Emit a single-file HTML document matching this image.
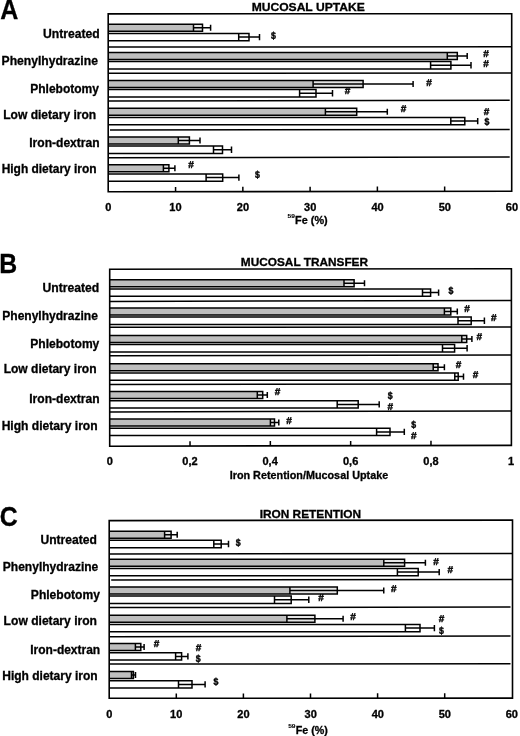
<!DOCTYPE html>
<html><head><meta charset="utf-8"><style>
html,body{margin:0;padding:0;background:#fff;}
svg{display:block;}
text{font-family:"Liberation Sans",Arial,sans-serif;font-weight:bold;fill:#000;stroke:#000;stroke-width:0.3px;}
.mk{stroke-width:0.4px;text-rendering:geometricPrecision;}
.sup{stroke-width:0.1px;}
</style></head><body>
<svg width="520" height="736" viewBox="0 0 520 736">
<rect width="520" height="736" fill="#fff"/>
<g id="pA"><rect x="108.2" y="24.3" width="94.3" height="7" fill="#bebebe"/>
<rect x="193.5" y="24.3" width="9" height="7" fill="#e4e4e4"/>
<path d="M108.2 24.3H202.5V31.3H108.2M193.5 24.3V31.3M193.5 27.8H210.6M210.6 24.8V30.8" fill="none" stroke="#000" stroke-width="1.5"/>
<rect x="108.2" y="33.4" width="140.8" height="7.4" fill="#fff"/>
<rect x="238.7" y="33.4" width="10.3" height="7.4" fill="#fff"/>
<path d="M108.2 33.4H249V40.8H108.2M238.7 33.4V40.8M238.7 37.1H259.5M259.5 33.9V40.3" fill="none" stroke="#000" stroke-width="1.5"/>
<rect x="108.2" y="52.4" width="349.1" height="7" fill="#bebebe"/>
<rect x="447.3" y="52.4" width="10" height="7" fill="#e4e4e4"/>
<path d="M108.2 52.4H457.3V59.4H108.2M447.3 52.4V59.4M447.3 55.9H467.2M467.2 52.9V58.9" fill="none" stroke="#000" stroke-width="1.5"/>
<rect x="108.2" y="61.5" width="342.7" height="7.4" fill="#fff"/>
<rect x="430.6" y="61.5" width="20.3" height="7.4" fill="#fff"/>
<path d="M108.2 61.5H450.9V68.9H108.2M430.6 61.5V68.9M430.6 65.2H471M471 62V68.4" fill="none" stroke="#000" stroke-width="1.5"/>
<rect x="108.2" y="80.4" width="254.9" height="7" fill="#bebebe"/>
<rect x="313.1" y="80.4" width="50" height="7" fill="#e4e4e4"/>
<path d="M108.2 80.4H363.1V87.4H108.2M313.1 80.4V87.4M313.1 83.9H413.1M413.1 80.9V86.9" fill="none" stroke="#000" stroke-width="1.5"/>
<rect x="108.2" y="89.5" width="207.8" height="7.4" fill="#fff"/>
<rect x="299.6" y="89.5" width="16.4" height="7.4" fill="#fff"/>
<path d="M108.2 89.5H316V96.9H108.2M299.6 89.5V96.9M299.6 93.2H332.5M332.5 90V96.4" fill="none" stroke="#000" stroke-width="1.5"/>
<rect x="108.2" y="108.3" width="248.5" height="7" fill="#bebebe"/>
<rect x="325.4" y="108.3" width="31.3" height="7" fill="#e4e4e4"/>
<path d="M108.2 108.3H356.7V115.3H108.2M325.4 108.3V115.3M325.4 111.8H387.3M387.3 108.8V114.8" fill="none" stroke="#000" stroke-width="1.5"/>
<rect x="108.2" y="117.4" width="356.6" height="7.4" fill="#fff"/>
<rect x="450.8" y="117.4" width="14" height="7.4" fill="#fff"/>
<path d="M108.2 117.4H464.8V124.8H108.2M450.8 117.4V124.8M450.8 121.1H477.7M477.7 117.9V124.3" fill="none" stroke="#000" stroke-width="1.5"/>
<rect x="108.2" y="137" width="81.2" height="7" fill="#bebebe"/>
<rect x="178.3" y="137" width="11.1" height="7" fill="#e4e4e4"/>
<path d="M108.2 137H189.4V144H108.2M178.3 137V144M178.3 140.5H200M200 137.5V143.5" fill="none" stroke="#000" stroke-width="1.5"/>
<rect x="108.2" y="146.1" width="114.3" height="7.4" fill="#fff"/>
<rect x="213.5" y="146.1" width="9" height="7.4" fill="#fff"/>
<path d="M108.2 146.1H222.5V153.5H108.2M213.5 146.1V153.5M213.5 149.8H231.5M231.5 146.6V153" fill="none" stroke="#000" stroke-width="1.5"/>
<rect x="108.2" y="164.8" width="60.7" height="7" fill="#bebebe"/>
<rect x="163.4" y="164.8" width="5.5" height="7" fill="#e4e4e4"/>
<path d="M108.2 164.8H168.9V171.8H108.2M163.4 164.8V171.8M163.4 168.3H174.9M174.9 165.3V171.3" fill="none" stroke="#000" stroke-width="1.5"/>
<rect x="108.2" y="173.9" width="114.5" height="7.4" fill="#fff"/>
<rect x="206.1" y="173.9" width="16.6" height="7.4" fill="#fff"/>
<path d="M108.2 173.9H222.7V181.3H108.2M206.1 173.9V181.3M206.1 177.6H238.9M238.9 174.4V180.8" fill="none" stroke="#000" stroke-width="1.5"/>
<path d="M108.2 47.1L511.7 46.7" stroke="#000" stroke-width="1.5"/>
<path d="M108.2 73.3L511.7 72.9" stroke="#000" stroke-width="1.5"/>
<path d="M108.2 101L509.7 100.3" stroke="#000" stroke-width="1.5"/>
<path d="M110 130L509.7 129.6" stroke="#000" stroke-width="1.5"/>
<path d="M108.2 157.7L509.7 157.1" stroke="#000" stroke-width="1.5"/>
<path d="M108.2 13.85L511.7 13.7L511.7 191.2L108.2 191.8Z" fill="none" stroke="#000" stroke-width="1.6"/>
<path d="M175.57 191.7V186.9M242.84 191.6V186.8M310.11 191.5V186.7M377.38 191.4V186.6M444.65 191.3V186.5" stroke="#000" stroke-width="1.5"/>
<text x="105.29" y="210.8" font-size="10.4" textLength="6.13" lengthAdjust="spacingAndGlyphs">0</text>
<text x="169.32" y="210.8" font-size="10.4" textLength="12.26" lengthAdjust="spacingAndGlyphs">10</text>
<text x="236.76" y="210.8" font-size="10.4" textLength="12.26" lengthAdjust="spacingAndGlyphs">20</text>
<text x="304.12" y="210.8" font-size="10.4" textLength="12.26" lengthAdjust="spacingAndGlyphs">30</text>
<text x="371.47" y="210.8" font-size="10.4" textLength="12.26" lengthAdjust="spacingAndGlyphs">40</text>
<text x="438.66" y="210.8" font-size="10.4" textLength="12.26" lengthAdjust="spacingAndGlyphs">50</text>
<text x="505.84" y="210.8" font-size="10.4" textLength="12.26" lengthAdjust="spacingAndGlyphs">60</text>
<text x="43.03" y="37.85" font-size="12" textLength="56.75" lengthAdjust="spacingAndGlyphs">Untreated</text>
<text x="1.64" y="64.85" font-size="12" textLength="96.26" lengthAdjust="spacingAndGlyphs">Phenylhydrazine</text>
<text x="30.25" y="93.05" font-size="12" textLength="68.67" lengthAdjust="spacingAndGlyphs">Phlebotomy</text>
<text x="3.25" y="118.85" font-size="12" textLength="92.93" lengthAdjust="spacingAndGlyphs">Low dietary iron</text>
<text x="29.25" y="146.85" font-size="12" textLength="70.34" lengthAdjust="spacingAndGlyphs">Iron-dextran</text>
<text x="1.65" y="173.45" font-size="12" textLength="94.92" lengthAdjust="spacingAndGlyphs">High dietary iron</text>
<text x="251.65" y="11" font-size="11.3" textLength="113.07" lengthAdjust="spacingAndGlyphs">MUCOSAL UPTAKE</text>
<text x="0.31" y="19" font-size="27" textLength="18.07" lengthAdjust="spacingAndGlyphs">A</text>
<text x="295.12" y="223.7" font-size="11" textLength="32.57" lengthAdjust="spacingAndGlyphs">Fe (%)</text>
<text x="287.6" y="217.6" font-size="6.0" textLength="7.37" lengthAdjust="spacingAndGlyphs" class="sup">59</text>
<text x="271" y="38.62" font-size="10" textLength="4.88" lengthAdjust="spacingAndGlyphs" class="mk">$</text>
<text x="483.14" y="57" font-size="10" class="mk">#</text>
<text x="483.14" y="66.6" font-size="10" class="mk">#</text>
<text x="426.34" y="86" font-size="10" class="mk">#</text>
<text x="344.84" y="94.2" font-size="10" class="mk">#</text>
<text x="400.64" y="111.6" font-size="10" class="mk">#</text>
<text x="483.84" y="115" font-size="10" class="mk">#</text>
<text x="484.4" y="124.62" font-size="10" textLength="4.88" lengthAdjust="spacingAndGlyphs" class="mk">$</text>
<text x="188.34" y="168.4" font-size="10" class="mk">#</text>
<text x="255" y="178.42" font-size="10" textLength="4.88" lengthAdjust="spacingAndGlyphs" class="mk">$</text></g>
<g id="pB"><rect x="109.7" y="279.8" width="244.4" height="7" fill="#bebebe"/>
<rect x="344" y="279.8" width="10.1" height="7" fill="#e4e4e4"/>
<path d="M109.7 279.8H354.1V286.8H109.7M344 279.8V286.8M344 283.3H364.5M364.5 280.3V286.3" fill="none" stroke="#000" stroke-width="1.5"/>
<rect x="109.7" y="288.9" width="320.9" height="7.4" fill="#fff"/>
<rect x="422.5" y="288.9" width="8.1" height="7.4" fill="#fff"/>
<path d="M109.7 288.9H430.6V296.3H109.7M422.5 288.9V296.3M422.5 292.6H438.6M438.6 289.4V295.8" fill="none" stroke="#000" stroke-width="1.5"/>
<rect x="109.7" y="308" width="341.1" height="7" fill="#bebebe"/>
<rect x="444.4" y="308" width="6.4" height="7" fill="#e4e4e4"/>
<path d="M109.7 308H450.8V315H109.7M444.4 308V315M444.4 311.5H457.3M457.3 308.5V314.5" fill="none" stroke="#000" stroke-width="1.5"/>
<rect x="109.7" y="317.1" width="361.5" height="7.4" fill="#fff"/>
<rect x="458" y="317.1" width="13.2" height="7.4" fill="#fff"/>
<path d="M109.7 317.1H471.2V324.5H109.7M458 317.1V324.5M458 320.8H484.4M484.4 317.6V324" fill="none" stroke="#000" stroke-width="1.5"/>
<rect x="109.7" y="335.5" width="357" height="7" fill="#bebebe"/>
<rect x="461.8" y="335.5" width="4.9" height="7" fill="#e4e4e4"/>
<path d="M109.7 335.5H466.7V342.5H109.7M461.8 335.5V342.5M461.8 339H471.9M471.9 336V342" fill="none" stroke="#000" stroke-width="1.5"/>
<rect x="109.7" y="344.6" width="344.9" height="7.4" fill="#fff"/>
<rect x="442.5" y="344.6" width="12.1" height="7.4" fill="#fff"/>
<path d="M109.7 344.6H454.6V352H109.7M442.5 344.6V352M442.5 348.3H467.1M467.1 345.1V351.5" fill="none" stroke="#000" stroke-width="1.5"/>
<rect x="109.7" y="363.8" width="328.3" height="7" fill="#bebebe"/>
<rect x="433.2" y="363.8" width="4.8" height="7" fill="#e4e4e4"/>
<path d="M109.7 363.8H438V370.8H109.7M433.2 363.8V370.8M433.2 367.3H444.4M444.4 364.3V370.3" fill="none" stroke="#000" stroke-width="1.5"/>
<rect x="109.7" y="372.9" width="348.5" height="7.4" fill="#fff"/>
<rect x="454.8" y="372.9" width="3.4" height="7.4" fill="#fff"/>
<path d="M109.7 372.9H458.2V380.3H109.7M454.8 372.9V380.3M454.8 376.6H463.5M463.5 373.4V379.8" fill="none" stroke="#000" stroke-width="1.5"/>
<rect x="109.7" y="391.6" width="153" height="7" fill="#bebebe"/>
<rect x="257.3" y="391.6" width="5.4" height="7" fill="#e4e4e4"/>
<path d="M109.7 391.6H262.7V398.6H109.7M257.3 391.6V398.6M257.3 395.1H267.3M267.3 392.1V398.1" fill="none" stroke="#000" stroke-width="1.5"/>
<rect x="109.7" y="400.7" width="248.5" height="7.4" fill="#fff"/>
<rect x="337.2" y="400.7" width="21" height="7.4" fill="#fff"/>
<path d="M109.7 400.7H358.2V408.1H109.7M337.2 400.7V408.1M337.2 404.4H379.2M379.2 401.2V407.6" fill="none" stroke="#000" stroke-width="1.5"/>
<rect x="109.7" y="419.1" width="164.8" height="7" fill="#bebebe"/>
<rect x="270.4" y="419.1" width="4.1" height="7" fill="#e4e4e4"/>
<path d="M109.7 419.1H274.5V426.1H109.7M270.4 419.1V426.1M270.4 422.6H278.8M278.8 419.6V425.6" fill="none" stroke="#000" stroke-width="1.5"/>
<rect x="109.7" y="428.2" width="280.3" height="7.4" fill="#fff"/>
<rect x="376.6" y="428.2" width="13.4" height="7.4" fill="#fff"/>
<path d="M109.7 428.2H390V435.6H109.7M376.6 428.2V435.6M376.6 431.9H404.3M404.3 428.7V435.1" fill="none" stroke="#000" stroke-width="1.5"/>
<path d="M109.7 301.4L511.4 300.5" stroke="#000" stroke-width="1.5"/>
<path d="M109.7 327.3L511.4 326.9" stroke="#000" stroke-width="1.5"/>
<path d="M109.7 355.8L511.4 354.9" stroke="#000" stroke-width="1.5"/>
<path d="M109.7 384.6L511.4 383.9" stroke="#000" stroke-width="1.5"/>
<path d="M109.7 411.9L511.4 411.1" stroke="#000" stroke-width="1.5"/>
<path d="M109.7 269.2L511.4 268.7L511.4 445.4L109.7 446.2Z" fill="none" stroke="#000" stroke-width="1.6"/>
<path d="M190.02 446.04V441.24M270.34 445.88V441.08M350.66 445.72V440.92M430.98 445.56V440.76" stroke="#000" stroke-width="1.5"/>
<text x="106.69" y="464.8" font-size="10.4" textLength="6.13" lengthAdjust="spacingAndGlyphs">0</text>
<text x="182.32" y="464.8" font-size="10.4" textLength="15.32" lengthAdjust="spacingAndGlyphs">0,2</text>
<text x="262.47" y="464.8" font-size="10.4" textLength="15.32" lengthAdjust="spacingAndGlyphs">0,4</text>
<text x="342.96" y="464.8" font-size="10.4" textLength="15.32" lengthAdjust="spacingAndGlyphs">0,6</text>
<text x="423.28" y="464.8" font-size="10.4" textLength="15.32" lengthAdjust="spacingAndGlyphs">0,8</text>
<text x="508.03" y="464.8" font-size="10.4" textLength="6.13" lengthAdjust="spacingAndGlyphs">1</text>
<text x="42.43" y="292.05" font-size="12" textLength="56.75" lengthAdjust="spacingAndGlyphs">Untreated</text>
<text x="2.25" y="320.45" font-size="12" textLength="95.65" lengthAdjust="spacingAndGlyphs">Phenylhydrazine</text>
<text x="30.25" y="348.45" font-size="12" textLength="69.08" lengthAdjust="spacingAndGlyphs">Phlebotomy</text>
<text x="3.65" y="373.05" font-size="12" textLength="92.93" lengthAdjust="spacingAndGlyphs">Low dietary iron</text>
<text x="29.25" y="402.85" font-size="12" textLength="70.34" lengthAdjust="spacingAndGlyphs">Iron-dextran</text>
<text x="1.65" y="430.05" font-size="12" textLength="95.94" lengthAdjust="spacingAndGlyphs">High dietary iron</text>
<text x="240.86" y="265.5" font-size="11.3" textLength="127.16" lengthAdjust="spacingAndGlyphs">MUCOSAL TRANSFER</text>
<text x="-0.65" y="273.4" font-size="27" textLength="17.91" lengthAdjust="spacingAndGlyphs">B</text>
<text x="229.72" y="478.8" font-size="11" textLength="158.44" lengthAdjust="spacingAndGlyphs">Iron Retention/Mucosal Uptake</text>
<text x="448.4" y="294.22" font-size="10" textLength="4.88" lengthAdjust="spacingAndGlyphs" class="mk">$</text>
<text x="464.24" y="311.5" font-size="10" class="mk">#</text>
<text x="490.94" y="320.8" font-size="10" class="mk">#</text>
<text x="476.54" y="339.8" font-size="10" class="mk">#</text>
<text x="455.64" y="368.4" font-size="10" class="mk">#</text>
<text x="472.64" y="377.8" font-size="10" class="mk">#</text>
<text x="274.84" y="395.2" font-size="10" class="mk">#</text>
<text x="387.7" y="399.02" font-size="10" textLength="4.88" lengthAdjust="spacingAndGlyphs" class="mk">$</text>
<text x="387.54" y="409.8" font-size="10" class="mk">#</text>
<text x="286.34" y="423.5" font-size="10" class="mk">#</text>
<text x="411.2" y="428.12" font-size="10" textLength="4.88" lengthAdjust="spacingAndGlyphs" class="mk">$</text>
<text x="411.04" y="438.5" font-size="10" class="mk">#</text></g>
<g id="pC"><rect x="109.2" y="531.2" width="61.9" height="7" fill="#bebebe"/>
<rect x="164.6" y="531.2" width="6.5" height="7" fill="#e4e4e4"/>
<path d="M109.2 531.2H171.1V538.2H109.2M164.6 531.2V538.2M164.6 534.7H177.2M177.2 531.7V537.7" fill="none" stroke="#000" stroke-width="1.5"/>
<rect x="109.2" y="540.3" width="112" height="7.4" fill="#fff"/>
<rect x="213.8" y="540.3" width="7.4" height="7.4" fill="#fff"/>
<path d="M109.2 540.3H221.2V547.7H109.2M213.8 540.3V547.7M213.8 544H228.5M228.5 540.8V547.2" fill="none" stroke="#000" stroke-width="1.5"/>
<rect x="109.2" y="559.3" width="295.4" height="7" fill="#bebebe"/>
<rect x="383.8" y="559.3" width="20.8" height="7" fill="#e4e4e4"/>
<path d="M109.2 559.3H404.6V566.3H109.2M383.8 559.3V566.3M383.8 562.8H425.4M425.4 559.8V565.8" fill="none" stroke="#000" stroke-width="1.5"/>
<rect x="109.2" y="568.4" width="309" height="7.4" fill="#fff"/>
<rect x="397.4" y="568.4" width="20.8" height="7.4" fill="#fff"/>
<path d="M109.2 568.4H418.2V575.8H109.2M397.4 568.4V575.8M397.4 572.1H439.2M439.2 568.9V575.3" fill="none" stroke="#000" stroke-width="1.5"/>
<rect x="109.2" y="587" width="228.1" height="7" fill="#bebebe"/>
<rect x="289.9" y="587" width="47.4" height="7" fill="#e4e4e4"/>
<path d="M109.2 587H337.3V594H109.2M289.9 587V594M289.9 590.5H383.75M383.75 587.5V593.5" fill="none" stroke="#000" stroke-width="1.5"/>
<rect x="109.2" y="596.1" width="182" height="7.4" fill="#fff"/>
<rect x="274.5" y="596.1" width="16.7" height="7.4" fill="#fff"/>
<path d="M109.2 596.1H291.2V603.5H109.2M274.5 596.1V603.5M274.5 599.8H308.8M308.8 596.6V603" fill="none" stroke="#000" stroke-width="1.5"/>
<rect x="109.2" y="615.3" width="205.7" height="7" fill="#bebebe"/>
<rect x="286.9" y="615.3" width="28" height="7" fill="#e4e4e4"/>
<path d="M109.2 615.3H314.9V622.3H109.2M286.9 615.3V622.3M286.9 618.8H343.1M343.1 615.8V621.8" fill="none" stroke="#000" stroke-width="1.5"/>
<rect x="109.2" y="624.4" width="310.8" height="7.4" fill="#fff"/>
<rect x="405.4" y="624.4" width="14.6" height="7.4" fill="#fff"/>
<path d="M109.2 624.4H420V631.8H109.2M405.4 624.4V631.8M405.4 628.1H434.4M434.4 624.9V631.3" fill="none" stroke="#000" stroke-width="1.5"/>
<rect x="109.2" y="643.6" width="31.6" height="7" fill="#bebebe"/>
<rect x="135.4" y="643.6" width="5.4" height="7" fill="#e4e4e4"/>
<path d="M109.2 643.6H140.8V650.6H109.2M135.4 643.6V650.6M135.4 647.1H144.1M144.1 644.1V650.1" fill="none" stroke="#000" stroke-width="1.5"/>
<rect x="109.2" y="652.7" width="72.4" height="7.4" fill="#fff"/>
<rect x="175.6" y="652.7" width="6" height="7.4" fill="#fff"/>
<path d="M109.2 652.7H181.6V660.1H109.2M175.6 652.7V660.1M175.6 656.4H187.9M187.9 653.2V659.6" fill="none" stroke="#000" stroke-width="1.5"/>
<rect x="109.2" y="671.6" width="24.2" height="7" fill="#bebebe"/>
<rect x="131.5" y="671.6" width="1.9" height="7" fill="#e4e4e4"/>
<path d="M109.2 671.6H133.4V678.6H109.2M131.5 671.6V678.6M131.5 675.1H135.5M135.5 672.1V678.1" fill="none" stroke="#000" stroke-width="1.5"/>
<rect x="109.2" y="680.7" width="82.8" height="7.4" fill="#fff"/>
<rect x="178.5" y="680.7" width="13.5" height="7.4" fill="#fff"/>
<path d="M109.2 680.7H192V688.1H109.2M178.5 680.7V688.1M178.5 684.4H205.1M205.1 681.2V687.6" fill="none" stroke="#000" stroke-width="1.5"/>
<path d="M109.2 554L512.5 553.6" stroke="#000" stroke-width="1.5"/>
<path d="M111.2 579.9L512.5 579.6" stroke="#000" stroke-width="1.5"/>
<path d="M109.2 607.6L510.5 607.1" stroke="#000" stroke-width="1.5"/>
<path d="M109.2 636.7L510.5 636.1" stroke="#000" stroke-width="1.5"/>
<path d="M109.2 664L510.5 663.8" stroke="#000" stroke-width="1.5"/>
<path d="M109.2 520.6L512.5 520.1L512.5 698.1L109.2 698.3Z" fill="none" stroke="#000" stroke-width="1.6"/>
<path d="M176.3 698.27V693.47M243.4 698.23V693.43M310.5 698.2V693.4M377.6 698.17V693.37M444.7 698.13V693.33" stroke="#000" stroke-width="1.5"/>
<text x="106.19" y="718" font-size="10.4" textLength="6.13" lengthAdjust="spacingAndGlyphs">0</text>
<text x="170.05" y="718" font-size="10.4" textLength="12.26" lengthAdjust="spacingAndGlyphs">10</text>
<text x="237.32" y="718" font-size="10.4" textLength="12.26" lengthAdjust="spacingAndGlyphs">20</text>
<text x="304.51" y="718" font-size="10.4" textLength="12.26" lengthAdjust="spacingAndGlyphs">30</text>
<text x="371.69" y="718" font-size="10.4" textLength="12.26" lengthAdjust="spacingAndGlyphs">40</text>
<text x="438.71" y="718" font-size="10.4" textLength="12.26" lengthAdjust="spacingAndGlyphs">50</text>
<text x="505.72" y="718" font-size="10.4" textLength="12.26" lengthAdjust="spacingAndGlyphs">60</text>
<text x="40.43" y="544.45" font-size="12" textLength="56.34" lengthAdjust="spacingAndGlyphs">Untreated</text>
<text x="2.85" y="571.45" font-size="12" textLength="95.45" lengthAdjust="spacingAndGlyphs">Phenylhydrazine</text>
<text x="30.85" y="598.85" font-size="12" textLength="69.08" lengthAdjust="spacingAndGlyphs">Phlebotomy</text>
<text x="3.64" y="625.45" font-size="12" textLength="93.34" lengthAdjust="spacingAndGlyphs">Low dietary iron</text>
<text x="30.25" y="654.05" font-size="12" textLength="69.93" lengthAdjust="spacingAndGlyphs">Iron-dextran</text>
<text x="2.25" y="680.45" font-size="12" textLength="95.33" lengthAdjust="spacingAndGlyphs">High dietary iron</text>
<text x="259.66" y="517.7" font-size="11.3" textLength="101.42" lengthAdjust="spacingAndGlyphs">IRON RETENTION</text>
<text x="-0.18" y="526.1" font-size="27" textLength="17.95" lengthAdjust="spacingAndGlyphs">C</text>
<text x="295.73" y="734.2" font-size="11" textLength="32.16" lengthAdjust="spacingAndGlyphs">Fe (%)</text>
<text x="288.2" y="727.9" font-size="6.0" textLength="7.37" lengthAdjust="spacingAndGlyphs" class="sup">59</text>
<text x="235.8" y="545.72" font-size="10" textLength="4.88" lengthAdjust="spacingAndGlyphs" class="mk">$</text>
<text x="433.34" y="564.5" font-size="10" class="mk">#</text>
<text x="447.54" y="572.5" font-size="10" class="mk">#</text>
<text x="391.09" y="591.5" font-size="10" class="mk">#</text>
<text x="318.34" y="601.2" font-size="10" class="mk">#</text>
<text x="350.24" y="619.8" font-size="10" class="mk">#</text>
<text x="438.84" y="621.6" font-size="10" class="mk">#</text>
<text x="439" y="633.52" font-size="10" textLength="4.88" lengthAdjust="spacingAndGlyphs" class="mk">$</text>
<text x="153.84" y="647.4" font-size="10" class="mk">#</text>
<text x="195.64" y="651.3" font-size="10" class="mk">#</text>
<text x="195.8" y="661.82" font-size="10" textLength="4.88" lengthAdjust="spacingAndGlyphs" class="mk">$</text>
<text x="213.4" y="684.72" font-size="10" textLength="4.88" lengthAdjust="spacingAndGlyphs" class="mk">$</text></g>
</svg>
</body></html>
